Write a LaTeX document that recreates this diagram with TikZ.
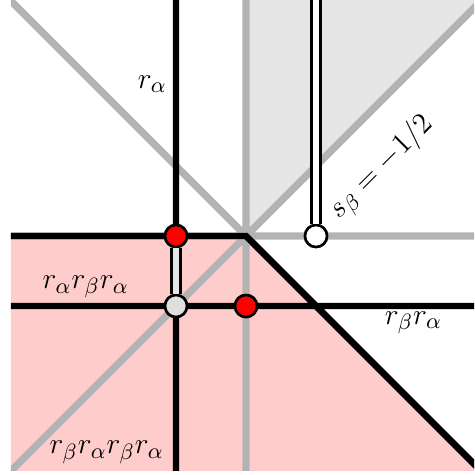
\documentclass[tikz,border=0pt]{standalone}
\usepackage{amsmath,amssymb}
\usepackage{xcolor}
\usepackage{tikz}
\usetikzlibrary{calc}
\definecolor{pinkfill}{HTML}{FFCCCC}
\definecolor{grayfill}{HTML}{E5E5E5}
\definecolor{wallgray}{HTML}{B3B3B3}
\definecolor{dotred}{HTML}{FF0000}
\tikzset{
  wall/.style={wallgray,line width=3pt},
  mirror/.style={black,line width=2.6pt},
  gate/.style={black,line width=1.1pt,double distance=2.4pt},
  dot/.style={circle,draw=black,line width=1.1pt,inner sep=0pt,minimum size=9pt},
  lab/.style={font=\fontsize{13}{15}\selectfont,inner sep=1pt}
}

\begin{document}
\begin{tikzpicture}
\def\L{3.357}\def\R{3.257}\def\B{3.343}\def\T{3.371}
\useasboundingbox (-3.514,-3.414) rectangle (\R,\T);
\begin{scope}
\clip (-\L,-\B) rectangle (\R,\T);
\fill[pinkfill] (-4,0)--(0,0)--(4,-4)--(-4,-4)--cycle;
\fill[grayfill] (0,0)--(4,4)--(0,4)--cycle;
\draw[wall] (0,-4)--(0,4) (-4,0)--(4,0) (-4,-4)--(4,4) (-4,4)--(4,-4);
\draw[mirror] (-1,-4)--(-1,4) (-4,-1)--(4,-1) (-4,0)--(0,0)--(4,-4);
\end{scope}
\coordinate (top) at (1,\T);
\node[dot,fill=white] (wd) at (1,0) {};
\node[dot,fill=dotred] (ra) at (-1,0) {};
\node[dot,fill=dotred] (rb) at (0,-1) {};
\node[dot,fill=gray!25] (gd) at (-1,-1) {};
\draw[gate,double=white] (top) -- (wd);
\draw[gate,double=gray!20] (ra) -- (gd);
\node[lab] (la) at (-1.34,2.17) {$r_\alpha$};
\node[lab] (laba) at (-2.29,-0.73) {$r_\alpha r_\beta r_\alpha$};
\node[lab] (lba) at (2.39,-1.24) {$r_\beta r_\alpha$};
\node[lab] (lbaba) at (-1.99,-3.09) {$r_\beta r_\alpha r_\beta r_\alpha$};
\node[lab,rotate=45] (ls) at (1.94,0.97) {$s_\beta=-1/2$};
\end{tikzpicture}
\end{document}
